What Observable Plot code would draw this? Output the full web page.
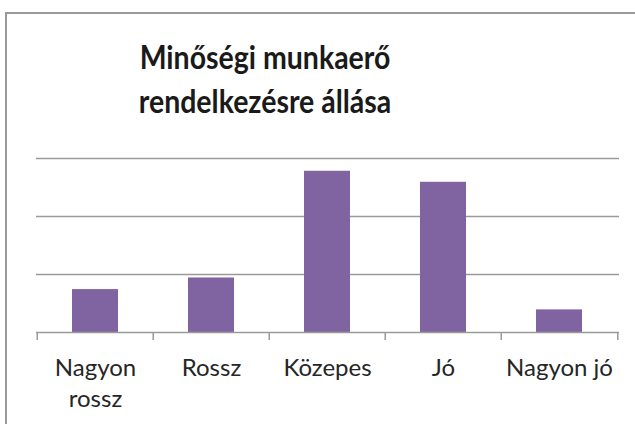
<!DOCTYPE html>
<html>
<head>
<meta charset="utf-8">
<script src="https://cdn.jsdelivr.net/npm/d3@7"></script>
<script src="https://cdn.jsdelivr.net/npm/@observablehq/plot@0.6"></script>
<style>
  html, body { margin: 0; padding: 0; background: #fff; width: 635px; height: 424px; overflow: hidden; }
  #frame { position: absolute; left: 5px; top: 12px; width: 660px; height: 450px; border: 2px solid #9a9a9a; box-sizing: border-box; }
  #title { position: absolute; left: 0; top: 35px; width: 530px; text-align: center;
    font-family: Lato, sans-serif; font-weight: bold; font-size: 32px; line-height: 44px; color: #1a1a1a;
    transform: scaleX(0.89); transform-origin: 265px 0; }
  #chart { position: absolute; left: 0; top: 140px; }
</style>
</head>
<body>
<div id="frame"></div>
<div id="title">Minőségi munkaerő<br>rendelkezésre állása</div>
<div id="chart"></div>
<script>
const categories = ["Nagyon rossz", "Rossz", "Közepes", "Jó", "Nagyon jó"];
const tickLabels = ["Nagyon\nrossz", "Rossz", "Közepes", "Jó", "Nagyon jó"];
const values = [7.4, 9.4, 27.8, 25.9, 3.9];
const gridTicks = [10, 20, 30];

const data = categories.map((c, i) => ({category: c, value: values[i]}));

const width = 635, height = 284;
const marginLeft = 36, marginRight = 16, marginTop = 18, marginBottom = 92;
const step = (width - marginLeft - marginRight) / categories.length;
const gray = "#9a9a9a";

const plot = Plot.plot({
  width, height, marginLeft, marginRight, marginTop, marginBottom,
  style: {fontFamily: "Lato, sans-serif", fontSize: "24px", color: "#262626", background: "transparent"},
  x: {domain: categories, paddingInner: 0.6, paddingOuter: 0.3, label: null},
  y: {domain: [0, 30], label: null, axis: null},
  marks: [
    Plot.gridY(gridTicks, {stroke: gray, strokeOpacity: 1, strokeWidth: 1.5}),
    Plot.barY(data, {x: "category", y: "value", fill: "#8064A2"}),
    Plot.ruleY([0], {stroke: gray, strokeWidth: 1.5}),
    Plot.ruleX(categories, {x: d => d, y1: 0, y2: 0, insetBottom: -8, dx: -step / 2, stroke: gray, strokeWidth: 1.5}),
    Plot.ruleX([categories[categories.length - 1]], {x: d => d, y1: 0, y2: 0, insetBottom: -8, dx: step / 2, stroke: gray, strokeWidth: 1.5}),
    Plot.axisX({tickSize: 0, tickPadding: 21, fontSize: 24, tickFormat: (d, i) => tickLabels[i], lineHeight: 1.3, fill: "#262626"})
  ]
});
document.getElementById("chart").appendChild(plot);
</script>
</body>
</html>
